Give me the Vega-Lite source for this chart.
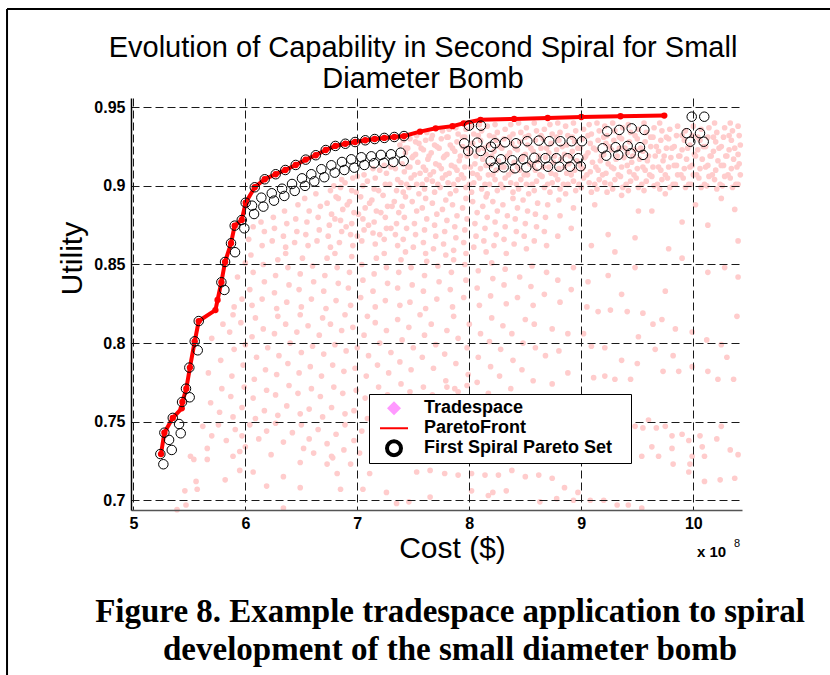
{
"$schema": "https://vega.github.io/schema/vega-lite/v6.json",
"width": 611, "height": 412,
"autosize": {"type": "none"},
"padding": {"left": 131, "top": 98, "right": 88, "bottom": 165},
"background": "white",
"config": {"view": {"stroke": null}, "font": "Liberation Sans",
 "legend": {"orient": "none", "legendX": 238, "legendY": 296, "fillColor": "white", "strokeColor": "black", "padding": 5, "rowPadding": 1, "clipHeight": 18.5, "symbolSize": 196, "symbolOffset": 11, "labelOffset": 21, "labelFont": "Liberation Sans", "labelFontSize": 18, "labelFontWeight": "bold", "labelColor": "black", "labelLimit": 400, "symbolOpacity": 1}},
"datasets": {
"trade": [
{"cost":7.41,"utility":0.896},{"cost":7.39,"utility":0.902},{"cost":7.42,"utility":0.909},{"cost":7.40,"utility":0.914},{"cost":7.43,"utility":0.921},{"cost":7.38,"utility":0.926},{"cost":7.41,"utility":0.929},
{"cost":7.46,"utility":0.899},{"cost":7.48,"utility":0.905},{"cost":7.47,"utility":0.912},{"cost":7.49,"utility":0.918},{"cost":7.45,"utility":0.924},{"cost":7.47,"utility":0.930},
{"cost":7.55,"utility":0.895},{"cost":7.53,"utility":0.901},{"cost":7.56,"utility":0.908},{"cost":7.54,"utility":0.915},{"cost":7.52,"utility":0.920},{"cost":7.55,"utility":0.927},{"cost":7.53,"utility":0.932},
{"cost":7.60,"utility":0.898},{"cost":7.62,"utility":0.904},{"cost":7.61,"utility":0.910},{"cost":7.63,"utility":0.917},{"cost":7.59,"utility":0.923},{"cost":7.61,"utility":0.929},{"cost":7.62,"utility":0.934},
{"cost":7.69,"utility":0.896},{"cost":7.67,"utility":0.903},{"cost":7.68,"utility":0.909},{"cost":7.70,"utility":0.914},{"cost":7.66,"utility":0.921},{"cost":7.69,"utility":0.926},{"cost":7.67,"utility":0.932},
{"cost":7.74,"utility":0.899},{"cost":7.76,"utility":0.905},{"cost":7.75,"utility":0.911},{"cost":7.77,"utility":0.918},{"cost":7.73,"utility":0.924},{"cost":7.75,"utility":0.930},{"cost":7.76,"utility":0.935},
{"cost":7.83,"utility":0.895},{"cost":7.81,"utility":0.902},{"cost":7.82,"utility":0.908},{"cost":7.84,"utility":0.913},{"cost":7.80,"utility":0.920},{"cost":7.83,"utility":0.926},{"cost":7.81,"utility":0.931},{"cost":7.82,"utility":0.936},
{"cost":7.88,"utility":0.897},{"cost":7.90,"utility":0.904},{"cost":7.89,"utility":0.910},{"cost":7.91,"utility":0.916},{"cost":7.87,"utility":0.922},{"cost":7.89,"utility":0.928},{"cost":7.90,"utility":0.933},{"cost":7.88,"utility":0.937},
{"cost":7.97,"utility":0.899},{"cost":7.95,"utility":0.905},{"cost":7.96,"utility":0.912},{"cost":7.98,"utility":0.919},{"cost":7.94,"utility":0.925},{"cost":7.96,"utility":0.931},{"cost":7.97,"utility":0.936},
{"cost":8.02,"utility":0.896},{"cost":8.04,"utility":0.902},{"cost":8.03,"utility":0.908},{"cost":8.05,"utility":0.914},{"cost":8.01,"utility":0.921},{"cost":8.03,"utility":0.927},{"cost":8.04,"utility":0.933},{"cost":8.02,"utility":0.938},
{"cost":8.11,"utility":0.898},{"cost":8.09,"utility":0.905},{"cost":8.10,"utility":0.911},{"cost":8.12,"utility":0.917},{"cost":8.08,"utility":0.923},{"cost":8.10,"utility":0.929},{"cost":8.11,"utility":0.935},{"cost":8.09,"utility":0.939},
{"cost":8.16,"utility":0.895},{"cost":8.18,"utility":0.901},{"cost":8.17,"utility":0.907},{"cost":8.19,"utility":0.913},{"cost":8.15,"utility":0.920},{"cost":8.17,"utility":0.926},{"cost":8.18,"utility":0.932},{"cost":8.16,"utility":0.938},
{"cost":8.25,"utility":0.897},{"cost":8.23,"utility":0.904},{"cost":8.24,"utility":0.910},{"cost":8.26,"utility":0.916},{"cost":8.22,"utility":0.922},{"cost":8.24,"utility":0.929},{"cost":8.25,"utility":0.934},{"cost":8.23,"utility":0.939},
{"cost":8.30,"utility":0.899},{"cost":8.32,"utility":0.905},{"cost":8.31,"utility":0.912},{"cost":8.33,"utility":0.918},{"cost":8.29,"utility":0.924},{"cost":8.31,"utility":0.930},{"cost":8.32,"utility":0.936},
{"cost":8.39,"utility":0.896},{"cost":8.37,"utility":0.902},{"cost":8.38,"utility":0.909},{"cost":8.40,"utility":0.915},{"cost":8.36,"utility":0.921},{"cost":8.38,"utility":0.927},{"cost":8.39,"utility":0.933},{"cost":8.37,"utility":0.939},
{"cost":8.44,"utility":0.898},{"cost":8.46,"utility":0.904},{"cost":8.45,"utility":0.910},{"cost":8.47,"utility":0.917},{"cost":8.43,"utility":0.923},{"cost":8.45,"utility":0.928},{"cost":8.46,"utility":0.934},{"cost":8.44,"utility":0.940},
{"cost":8.53,"utility":0.895},{"cost":8.51,"utility":0.901},{"cost":8.52,"utility":0.907},{"cost":8.54,"utility":0.914},{"cost":8.50,"utility":0.920},{"cost":8.52,"utility":0.926},{"cost":8.53,"utility":0.932},{"cost":8.51,"utility":0.937},
{"cost":8.58,"utility":0.897},{"cost":8.60,"utility":0.903},{"cost":8.59,"utility":0.910},{"cost":8.61,"utility":0.916},{"cost":8.57,"utility":0.922},{"cost":8.59,"utility":0.929},{"cost":8.60,"utility":0.935},{"cost":8.58,"utility":0.940},
{"cost":8.67,"utility":0.899},{"cost":8.65,"utility":0.906},{"cost":8.66,"utility":0.912},{"cost":8.68,"utility":0.918},{"cost":8.64,"utility":0.924},{"cost":8.66,"utility":0.930},{"cost":8.67,"utility":0.936},
{"cost":8.72,"utility":0.896},{"cost":8.74,"utility":0.902},{"cost":8.73,"utility":0.908},{"cost":8.75,"utility":0.915},{"cost":8.71,"utility":0.921},{"cost":8.73,"utility":0.927},{"cost":8.74,"utility":0.933},{"cost":8.72,"utility":0.939},
{"cost":8.81,"utility":0.898},{"cost":8.79,"utility":0.904},{"cost":8.80,"utility":0.911},{"cost":8.82,"utility":0.917},{"cost":8.78,"utility":0.923},{"cost":8.80,"utility":0.929},{"cost":8.81,"utility":0.934},{"cost":8.79,"utility":0.940},
{"cost":8.86,"utility":0.895},{"cost":8.88,"utility":0.901},{"cost":8.87,"utility":0.908},{"cost":8.89,"utility":0.914},{"cost":8.85,"utility":0.920},{"cost":8.87,"utility":0.926},{"cost":8.88,"utility":0.932},{"cost":8.86,"utility":0.938},
{"cost":8.95,"utility":0.897},{"cost":8.93,"utility":0.903},{"cost":8.94,"utility":0.910},{"cost":8.96,"utility":0.916},{"cost":8.92,"utility":0.922},{"cost":8.94,"utility":0.928},{"cost":8.95,"utility":0.935},{"cost":8.93,"utility":0.940},
{"cost":9.00,"utility":0.899},{"cost":9.02,"utility":0.905},{"cost":9.01,"utility":0.911},{"cost":9.03,"utility":0.918},{"cost":8.99,"utility":0.924},{"cost":9.01,"utility":0.930},{"cost":9.02,"utility":0.936},
{"cost":9.09,"utility":0.896},{"cost":9.07,"utility":0.902},{"cost":9.08,"utility":0.909},{"cost":9.10,"utility":0.915},{"cost":9.06,"utility":0.921},{"cost":9.08,"utility":0.927},{"cost":9.09,"utility":0.933},{"cost":9.07,"utility":0.939},
{"cost":9.14,"utility":0.898},{"cost":9.16,"utility":0.904},{"cost":9.15,"utility":0.910},{"cost":9.17,"utility":0.916},{"cost":9.13,"utility":0.923},{"cost":9.15,"utility":0.929},{"cost":9.16,"utility":0.935},{"cost":9.14,"utility":0.940},
{"cost":9.23,"utility":0.896},{"cost":9.21,"utility":0.902},{"cost":9.22,"utility":0.908},{"cost":9.24,"utility":0.914},{"cost":9.20,"utility":0.920},{"cost":9.22,"utility":0.927},{"cost":9.23,"utility":0.932},{"cost":9.21,"utility":0.938},
{"cost":9.28,"utility":0.898},{"cost":9.30,"utility":0.904},{"cost":9.29,"utility":0.911},{"cost":9.31,"utility":0.917},{"cost":9.27,"utility":0.923},{"cost":9.29,"utility":0.929},{"cost":9.30,"utility":0.935},{"cost":9.28,"utility":0.940},
{"cost":9.37,"utility":0.899},{"cost":9.35,"utility":0.906},{"cost":9.36,"utility":0.912},{"cost":9.38,"utility":0.918},{"cost":9.34,"utility":0.924},{"cost":9.36,"utility":0.930},{"cost":9.37,"utility":0.937},
{"cost":9.42,"utility":0.897},{"cost":9.44,"utility":0.903},{"cost":9.43,"utility":0.909},{"cost":9.45,"utility":0.915},{"cost":9.41,"utility":0.921},{"cost":9.43,"utility":0.928},{"cost":9.44,"utility":0.934},{"cost":9.42,"utility":0.939},
{"cost":9.51,"utility":0.899},{"cost":9.49,"utility":0.905},{"cost":9.50,"utility":0.911},{"cost":9.52,"utility":0.917},{"cost":9.48,"utility":0.923},{"cost":9.50,"utility":0.930},{"cost":9.51,"utility":0.936},
{"cost":9.56,"utility":0.897},{"cost":9.58,"utility":0.903},{"cost":9.57,"utility":0.910},{"cost":9.59,"utility":0.916},{"cost":9.55,"utility":0.922},{"cost":9.57,"utility":0.928},{"cost":9.58,"utility":0.934},{"cost":9.56,"utility":0.940},
{"cost":9.65,"utility":0.900},{"cost":9.63,"utility":0.906},{"cost":9.64,"utility":0.912},{"cost":9.66,"utility":0.919},{"cost":9.62,"utility":0.925},{"cost":9.64,"utility":0.931},{"cost":9.65,"utility":0.937},
{"cost":9.70,"utility":0.898},{"cost":9.72,"utility":0.904},{"cost":9.71,"utility":0.910},{"cost":9.73,"utility":0.916},{"cost":9.69,"utility":0.922},{"cost":9.71,"utility":0.929},{"cost":9.72,"utility":0.935},{"cost":9.70,"utility":0.940},
{"cost":9.79,"utility":0.899},{"cost":9.77,"utility":0.905},{"cost":9.78,"utility":0.912},{"cost":9.80,"utility":0.918},{"cost":9.76,"utility":0.924},{"cost":9.78,"utility":0.930},{"cost":9.79,"utility":0.936},
{"cost":9.84,"utility":0.901},{"cost":9.86,"utility":0.907},{"cost":9.85,"utility":0.913},{"cost":9.87,"utility":0.919},{"cost":9.83,"utility":0.925},{"cost":9.85,"utility":0.932},{"cost":9.86,"utility":0.938},
{"cost":9.93,"utility":0.899},{"cost":9.91,"utility":0.905},{"cost":9.92,"utility":0.911},{"cost":9.94,"utility":0.917},{"cost":9.90,"utility":0.923},{"cost":9.92,"utility":0.929},{"cost":9.93,"utility":0.935},
{"cost":9.98,"utility":0.901},{"cost":10.00,"utility":0.907},{"cost":9.99,"utility":0.913},{"cost":10.01,"utility":0.920},{"cost":9.97,"utility":0.926},{"cost":9.99,"utility":0.932},{"cost":10.00,"utility":0.938},
{"cost":10.07,"utility":0.899},{"cost":10.05,"utility":0.905},{"cost":10.06,"utility":0.911},{"cost":10.08,"utility":0.917},{"cost":10.04,"utility":0.923},{"cost":10.06,"utility":0.929},{"cost":10.07,"utility":0.936},
{"cost":10.12,"utility":0.900},{"cost":10.14,"utility":0.906},{"cost":10.13,"utility":0.913},{"cost":10.15,"utility":0.919},{"cost":10.11,"utility":0.925},{"cost":10.13,"utility":0.931},{"cost":10.14,"utility":0.937},
{"cost":10.21,"utility":0.898},{"cost":10.19,"utility":0.904},{"cost":10.20,"utility":0.910},{"cost":10.22,"utility":0.916},{"cost":10.18,"utility":0.922},{"cost":10.20,"utility":0.928},{"cost":10.21,"utility":0.934},{"cost":10.19,"utility":0.940},
{"cost":10.26,"utility":0.900},{"cost":10.28,"utility":0.906},{"cost":10.27,"utility":0.913},{"cost":10.29,"utility":0.919},{"cost":10.25,"utility":0.925},{"cost":10.27,"utility":0.931},{"cost":10.28,"utility":0.937},
{"cost":10.35,"utility":0.899},{"cost":10.33,"utility":0.905},{"cost":10.34,"utility":0.911},{"cost":10.36,"utility":0.917},{"cost":10.32,"utility":0.923},{"cost":10.34,"utility":0.929},{"cost":10.35,"utility":0.935},{"cost":10.33,"utility":0.940},
{"cost":10.40,"utility":0.901},{"cost":10.42,"utility":0.907},{"cost":10.41,"utility":0.914},{"cost":10.40,"utility":0.920},{"cost":10.42,"utility":0.926},{"cost":10.41,"utility":0.932},{"cost":10.40,"utility":0.938},
{"cost":7.44,"utility":0.901},{"cost":7.45,"utility":0.912},{"cost":7.43,"utility":0.924},
{"cost":7.51,"utility":0.907},{"cost":7.50,"utility":0.919},{"cost":7.52,"utility":0.928},
{"cost":7.58,"utility":0.901},{"cost":7.59,"utility":0.912},{"cost":7.57,"utility":0.924},
{"cost":7.65,"utility":0.907},{"cost":7.64,"utility":0.919},{"cost":7.66,"utility":0.930},
{"cost":7.72,"utility":0.901},{"cost":7.73,"utility":0.913},{"cost":7.71,"utility":0.925},
{"cost":7.79,"utility":0.907},{"cost":7.78,"utility":0.919},{"cost":7.80,"utility":0.931},
{"cost":7.86,"utility":0.901},{"cost":7.87,"utility":0.912},{"cost":7.85,"utility":0.924},
{"cost":7.93,"utility":0.907},{"cost":7.92,"utility":0.919},{"cost":7.94,"utility":0.931},
{"cost":8.00,"utility":0.901},{"cost":8.01,"utility":0.912},{"cost":7.99,"utility":0.924},
{"cost":8.07,"utility":0.907},{"cost":8.06,"utility":0.919},{"cost":8.08,"utility":0.932},
{"cost":8.14,"utility":0.901},{"cost":8.15,"utility":0.913},{"cost":8.13,"utility":0.924},
{"cost":8.21,"utility":0.907},{"cost":8.20,"utility":0.919},{"cost":8.22,"utility":0.931},
{"cost":8.28,"utility":0.901},{"cost":8.29,"utility":0.912},{"cost":8.27,"utility":0.925},
{"cost":8.35,"utility":0.907},{"cost":8.34,"utility":0.919},{"cost":8.36,"utility":0.931},
{"cost":8.42,"utility":0.901},{"cost":8.43,"utility":0.912},{"cost":8.41,"utility":0.924},
{"cost":8.49,"utility":0.907},{"cost":8.48,"utility":0.919},{"cost":8.50,"utility":0.931},
{"cost":8.56,"utility":0.901},{"cost":8.57,"utility":0.913},{"cost":8.55,"utility":0.924},
{"cost":8.63,"utility":0.907},{"cost":8.62,"utility":0.919},{"cost":8.64,"utility":0.932},
{"cost":8.70,"utility":0.901},{"cost":8.71,"utility":0.912},{"cost":8.69,"utility":0.924},
{"cost":8.77,"utility":0.907},{"cost":8.76,"utility":0.919},{"cost":8.78,"utility":0.931},
{"cost":8.84,"utility":0.901},{"cost":8.85,"utility":0.912},{"cost":8.83,"utility":0.925},
{"cost":8.91,"utility":0.907},{"cost":8.90,"utility":0.919},{"cost":8.92,"utility":0.931},
{"cost":8.98,"utility":0.901},{"cost":8.99,"utility":0.913},{"cost":8.97,"utility":0.924},
{"cost":9.05,"utility":0.907},{"cost":9.04,"utility":0.919},{"cost":9.06,"utility":0.932},
{"cost":9.12,"utility":0.901},{"cost":9.13,"utility":0.912},{"cost":9.11,"utility":0.924},
{"cost":9.19,"utility":0.907},{"cost":9.18,"utility":0.919},{"cost":9.20,"utility":0.931},
{"cost":9.26,"utility":0.901},{"cost":9.27,"utility":0.912},{"cost":9.25,"utility":0.925},
{"cost":9.33,"utility":0.907},{"cost":9.32,"utility":0.919},{"cost":9.34,"utility":0.931},
{"cost":9.40,"utility":0.901},{"cost":9.41,"utility":0.913},{"cost":9.39,"utility":0.924},
{"cost":9.47,"utility":0.907},{"cost":9.46,"utility":0.919},{"cost":9.48,"utility":0.932},
{"cost":9.54,"utility":0.901},{"cost":9.55,"utility":0.912},{"cost":9.53,"utility":0.924},
{"cost":9.61,"utility":0.907},{"cost":9.60,"utility":0.919},{"cost":9.62,"utility":0.931},
{"cost":9.68,"utility":0.901},{"cost":9.69,"utility":0.912},{"cost":9.67,"utility":0.925},
{"cost":9.75,"utility":0.907},{"cost":9.74,"utility":0.919},{"cost":9.76,"utility":0.931},
{"cost":9.82,"utility":0.901},{"cost":9.83,"utility":0.913},{"cost":9.81,"utility":0.924},
{"cost":9.89,"utility":0.907},{"cost":9.88,"utility":0.919},{"cost":9.90,"utility":0.932},
{"cost":9.96,"utility":0.901},{"cost":9.97,"utility":0.912},{"cost":9.95,"utility":0.924},
{"cost":10.03,"utility":0.907},{"cost":10.02,"utility":0.919},{"cost":10.04,"utility":0.931},
{"cost":10.10,"utility":0.901},{"cost":10.11,"utility":0.912},{"cost":10.09,"utility":0.925},
{"cost":10.17,"utility":0.907},{"cost":10.16,"utility":0.919},{"cost":10.18,"utility":0.931},
{"cost":10.24,"utility":0.901},{"cost":10.25,"utility":0.913},{"cost":10.23,"utility":0.924},
{"cost":10.31,"utility":0.907},{"cost":10.30,"utility":0.919},{"cost":10.32,"utility":0.932},
{"cost":10.38,"utility":0.901},{"cost":10.39,"utility":0.912},{"cost":10.37,"utility":0.924},
{"cost":6.15,"utility":0.862},{"cost":6.17,"utility":0.871},{"cost":6.14,"utility":0.877},
{"cost":6.24,"utility":0.865},{"cost":6.26,"utility":0.873},{"cost":6.25,"utility":0.880},
{"cost":6.36,"utility":0.861},{"cost":6.34,"utility":0.868},{"cost":6.37,"utility":0.876},{"cost":6.35,"utility":0.884},
{"cost":6.44,"utility":0.864},{"cost":6.46,"utility":0.871},{"cost":6.45,"utility":0.879},{"cost":6.47,"utility":0.888},
{"cost":6.56,"utility":0.862},{"cost":6.54,"utility":0.869},{"cost":6.55,"utility":0.877},{"cost":6.57,"utility":0.884},{"cost":6.53,"utility":0.892},
{"cost":6.64,"utility":0.865},{"cost":6.66,"utility":0.872},{"cost":6.65,"utility":0.880},{"cost":6.67,"utility":0.887},{"cost":6.63,"utility":0.895},
{"cost":6.76,"utility":0.861},{"cost":6.74,"utility":0.868},{"cost":6.75,"utility":0.875},{"cost":6.77,"utility":0.882},{"cost":6.73,"utility":0.889},{"cost":6.76,"utility":0.897},
{"cost":6.84,"utility":0.864},{"cost":6.86,"utility":0.871},{"cost":6.85,"utility":0.878},{"cost":6.87,"utility":0.885},{"cost":6.83,"utility":0.892},{"cost":6.85,"utility":0.899},{"cost":6.86,"utility":0.904},
{"cost":6.96,"utility":0.862},{"cost":6.94,"utility":0.869},{"cost":6.95,"utility":0.876},{"cost":6.97,"utility":0.883},{"cost":6.93,"utility":0.890},{"cost":6.95,"utility":0.897},{"cost":6.96,"utility":0.905},
{"cost":7.04,"utility":0.865},{"cost":7.06,"utility":0.872},{"cost":7.05,"utility":0.879},{"cost":7.07,"utility":0.886},{"cost":7.03,"utility":0.893},{"cost":7.05,"utility":0.900},{"cost":7.06,"utility":0.907},
{"cost":7.16,"utility":0.863},{"cost":7.14,"utility":0.870},{"cost":7.15,"utility":0.877},{"cost":7.17,"utility":0.884},{"cost":7.13,"utility":0.891},{"cost":7.15,"utility":0.898},{"cost":7.16,"utility":0.905},{"cost":7.14,"utility":0.911},
{"cost":7.24,"utility":0.866},{"cost":7.26,"utility":0.873},{"cost":7.25,"utility":0.880},{"cost":7.27,"utility":0.887},{"cost":7.23,"utility":0.894},{"cost":7.25,"utility":0.901},{"cost":7.26,"utility":0.908},{"cost":7.24,"utility":0.913},
{"cost":7.36,"utility":0.862},{"cost":7.34,"utility":0.869},{"cost":7.35,"utility":0.876},{"cost":7.37,"utility":0.883},{"cost":7.33,"utility":0.890},{"cost":7.35,"utility":0.897},{"cost":7.36,"utility":0.904},{"cost":7.34,"utility":0.911},
{"cost":6.80,"utility":0.879},{"cost":6.81,"utility":0.893},{"cost":6.79,"utility":0.900},
{"cost":6.90,"utility":0.874},{"cost":6.91,"utility":0.888},{"cost":6.89,"utility":0.902},
{"cost":7.00,"utility":0.868},{"cost":7.01,"utility":0.882},{"cost":6.99,"utility":0.896},{"cost":7.00,"utility":0.906},
{"cost":7.10,"utility":0.875},{"cost":7.11,"utility":0.889},{"cost":7.09,"utility":0.903},
{"cost":7.20,"utility":0.869},{"cost":7.21,"utility":0.883},{"cost":7.19,"utility":0.897},{"cost":7.20,"utility":0.910},
{"cost":7.30,"utility":0.873},{"cost":7.31,"utility":0.887},{"cost":7.29,"utility":0.901},{"cost":7.30,"utility":0.912},
{"cost":7.43,"utility":0.858},{"cost":7.41,"utility":0.866},{"cost":7.44,"utility":0.873},{"cost":7.42,"utility":0.880},{"cost":7.40,"utility":0.887},{"cost":7.43,"utility":0.893},
{"cost":7.50,"utility":0.861},{"cost":7.52,"utility":0.869},{"cost":7.51,"utility":0.876},{"cost":7.53,"utility":0.884},{"cost":7.49,"utility":0.890},
{"cost":7.61,"utility":0.857},{"cost":7.59,"utility":0.864},{"cost":7.60,"utility":0.872},{"cost":7.62,"utility":0.879},{"cost":7.58,"utility":0.886},{"cost":7.61,"utility":0.892},
{"cost":7.68,"utility":0.860},{"cost":7.70,"utility":0.868},{"cost":7.69,"utility":0.875},{"cost":7.71,"utility":0.882},{"cost":7.67,"utility":0.889},
{"cost":7.79,"utility":0.856},{"cost":7.77,"utility":0.863},{"cost":7.78,"utility":0.871},{"cost":7.80,"utility":0.878},{"cost":7.76,"utility":0.885},{"cost":7.79,"utility":0.891},
{"cost":7.86,"utility":0.859},{"cost":7.88,"utility":0.867},{"cost":7.87,"utility":0.874},{"cost":7.89,"utility":0.881},{"cost":7.85,"utility":0.888},
{"cost":7.97,"utility":0.857},{"cost":7.95,"utility":0.864},{"cost":7.96,"utility":0.872},{"cost":7.98,"utility":0.879},{"cost":7.94,"utility":0.886},{"cost":7.97,"utility":0.892},
{"cost":8.04,"utility":0.861},{"cost":8.06,"utility":0.868},{"cost":8.05,"utility":0.876},{"cost":8.07,"utility":0.883},{"cost":8.03,"utility":0.890},
{"cost":8.15,"utility":0.858},{"cost":8.13,"utility":0.865},{"cost":8.14,"utility":0.873},{"cost":8.16,"utility":0.880},{"cost":8.12,"utility":0.887},{"cost":8.15,"utility":0.893},
{"cost":8.22,"utility":0.862},{"cost":8.24,"utility":0.869},{"cost":8.23,"utility":0.877},{"cost":8.25,"utility":0.884},{"cost":8.21,"utility":0.890},
{"cost":8.33,"utility":0.857},{"cost":8.31,"utility":0.866},{"cost":8.32,"utility":0.874},{"cost":8.34,"utility":0.881},{"cost":8.30,"utility":0.888},
{"cost":8.40,"utility":0.863},{"cost":8.42,"utility":0.871},{"cost":8.41,"utility":0.879},{"cost":8.43,"utility":0.886},{"cost":8.39,"utility":0.892},
{"cost":8.51,"utility":0.860},{"cost":8.49,"utility":0.868},{"cost":8.50,"utility":0.876},{"cost":8.52,"utility":0.884},{"cost":8.48,"utility":0.891},
{"cost":8.58,"utility":0.865},{"cost":8.60,"utility":0.874},{"cost":8.59,"utility":0.882},{"cost":8.61,"utility":0.889},
{"cost":8.69,"utility":0.862},{"cost":8.67,"utility":0.871},{"cost":8.68,"utility":0.880},{"cost":8.70,"utility":0.888},
{"cost":8.79,"utility":0.868},{"cost":8.81,"utility":0.881},{"cost":8.80,"utility":0.891},
{"cost":8.91,"utility":0.873},{"cost":8.93,"utility":0.886},
{"cost":9.12,"utility":0.888},{"cost":9.24,"utility":0.869},{"cost":9.36,"utility":0.894},{"cost":9.48,"utility":0.867},{"cost":9.63,"utility":0.884},{"cost":9.75,"utility":0.895},{"cost":9.90,"utility":0.877},{"cost":10.02,"utility":0.888},{"cost":10.13,"utility":0.875},{"cost":10.25,"utility":0.892},{"cost":10.37,"utility":0.885},{"cost":9.78,"utility":0.860},{"cost":9.30,"utility":0.858},{"cost":9.51,"utility":0.884},{"cost":9.09,"utility":0.862},{"cost":10.40,"utility":0.865},
{"cost":6.06,"utility":0.824},{"cost":6.04,"utility":0.834},{"cost":6.07,"utility":0.845},{"cost":6.05,"utility":0.856},
{"cost":6.15,"utility":0.828},{"cost":6.17,"utility":0.839},{"cost":6.16,"utility":0.850},
{"cost":6.28,"utility":0.822},{"cost":6.26,"utility":0.832},{"cost":6.27,"utility":0.843},{"cost":6.29,"utility":0.853},
{"cost":6.37,"utility":0.826},{"cost":6.39,"utility":0.837},{"cost":6.38,"utility":0.848},{"cost":6.36,"utility":0.857},
{"cost":6.50,"utility":0.823},{"cost":6.48,"utility":0.834},{"cost":6.49,"utility":0.844},{"cost":6.51,"utility":0.854},
{"cost":6.59,"utility":0.828},{"cost":6.61,"utility":0.839},{"cost":6.60,"utility":0.849},
{"cost":6.72,"utility":0.822},{"cost":6.70,"utility":0.833},{"cost":6.71,"utility":0.843},{"cost":6.73,"utility":0.854},
{"cost":6.81,"utility":0.827},{"cost":6.83,"utility":0.838},{"cost":6.82,"utility":0.848},{"cost":6.80,"utility":0.857},
{"cost":6.94,"utility":0.824},{"cost":6.92,"utility":0.835},{"cost":6.93,"utility":0.845},{"cost":6.95,"utility":0.855},
{"cost":7.03,"utility":0.829},{"cost":7.05,"utility":0.840},{"cost":7.04,"utility":0.850},
{"cost":7.16,"utility":0.823},{"cost":7.14,"utility":0.833},{"cost":7.15,"utility":0.844},{"cost":7.17,"utility":0.854},
{"cost":7.25,"utility":0.827},{"cost":7.27,"utility":0.838},{"cost":7.26,"utility":0.848},{"cost":7.24,"utility":0.857},
{"cost":7.38,"utility":0.824},{"cost":7.36,"utility":0.835},{"cost":7.37,"utility":0.845},{"cost":7.39,"utility":0.853},
{"cost":7.47,"utility":0.826},{"cost":7.49,"utility":0.837},{"cost":7.48,"utility":0.848},
{"cost":7.61,"utility":0.822},{"cost":7.59,"utility":0.833},{"cost":7.60,"utility":0.843},{"cost":7.62,"utility":0.852},
{"cost":7.71,"utility":0.828},{"cost":7.73,"utility":0.839},{"cost":7.72,"utility":0.849},
{"cost":7.85,"utility":0.823},{"cost":7.83,"utility":0.834},{"cost":7.84,"utility":0.845},{"cost":7.86,"utility":0.853},
{"cost":7.95,"utility":0.829},{"cost":7.97,"utility":0.840},{"cost":7.96,"utility":0.850},
{"cost":8.09,"utility":0.824},{"cost":8.07,"utility":0.835},{"cost":8.08,"utility":0.846},
{"cost":8.19,"utility":0.830},{"cost":8.21,"utility":0.841},{"cost":8.20,"utility":0.851},
{"cost":8.33,"utility":0.825},{"cost":8.31,"utility":0.837},{"cost":8.32,"utility":0.847},
{"cost":8.43,"utility":0.829},{"cost":8.45,"utility":0.842},
{"cost":8.57,"utility":0.824},{"cost":8.55,"utility":0.836},{"cost":8.56,"utility":0.849},
{"cost":8.67,"utility":0.831},{"cost":8.69,"utility":0.845},
{"cost":8.81,"utility":0.826},{"cost":8.79,"utility":0.840},
{"cost":8.91,"utility":0.834},{"cost":8.93,"utility":0.848},
{"cost":9.24,"utility":0.843},{"cost":9.48,"utility":0.848},{"cost":9.75,"utility":0.833},{"cost":9.90,"utility":0.854},{"cost":10.13,"utility":0.845},{"cost":10.28,"utility":0.848},{"cost":10.40,"utility":0.842},{"cost":9.36,"utility":0.831},{"cost":9.06,"utility":0.839},
{"cost":5.93,"utility":0.842},{"cost":5.97,"utility":0.828},{"cost":6.00,"utility":0.851},{"cost":5.90,"utility":0.823},{"cost":6.03,"utility":0.866},{"cost":6.07,"utility":0.874},
{"cost":5.69,"utility":0.762},{"cost":5.67,"utility":0.781},{"cost":5.70,"utility":0.803},
{"cost":5.77,"utility":0.756},{"cost":5.79,"utility":0.771},{"cost":5.78,"utility":0.789},{"cost":5.80,"utility":0.812},
{"cost":5.89,"utility":0.753},{"cost":5.87,"utility":0.766},{"cost":5.88,"utility":0.779},{"cost":5.90,"utility":0.796},{"cost":5.86,"utility":0.807},{"cost":5.89,"utility":0.818},
{"cost":5.97,"utility":0.759},{"cost":5.99,"utility":0.772},{"cost":5.98,"utility":0.786},{"cost":6.00,"utility":0.799},{"cost":5.96,"utility":0.813},
{"cost":6.09,"utility":0.752},{"cost":6.07,"utility":0.765},{"cost":6.08,"utility":0.777},{"cost":6.10,"utility":0.791},{"cost":6.06,"utility":0.804},{"cost":6.09,"utility":0.816},
{"cost":6.17,"utility":0.757},{"cost":6.19,"utility":0.770},{"cost":6.18,"utility":0.783},{"cost":6.20,"utility":0.797},{"cost":6.16,"utility":0.809},
{"cost":6.29,"utility":0.754},{"cost":6.27,"utility":0.767},{"cost":6.28,"utility":0.780},{"cost":6.30,"utility":0.792},{"cost":6.26,"utility":0.806},{"cost":6.29,"utility":0.817},
{"cost":6.37,"utility":0.760},{"cost":6.39,"utility":0.773},{"cost":6.38,"utility":0.787},{"cost":6.40,"utility":0.800},{"cost":6.36,"utility":0.812},
{"cost":6.49,"utility":0.755},{"cost":6.47,"utility":0.768},{"cost":6.48,"utility":0.781},{"cost":6.50,"utility":0.794},{"cost":6.46,"utility":0.807},{"cost":6.49,"utility":0.818},
{"cost":6.57,"utility":0.758},{"cost":6.59,"utility":0.771},{"cost":6.58,"utility":0.785},{"cost":6.60,"utility":0.798},{"cost":6.56,"utility":0.811},
{"cost":6.69,"utility":0.753},{"cost":6.67,"utility":0.766},{"cost":6.68,"utility":0.779},{"cost":6.70,"utility":0.793},{"cost":6.66,"utility":0.805},{"cost":6.69,"utility":0.816},
{"cost":6.77,"utility":0.759},{"cost":6.79,"utility":0.772},{"cost":6.78,"utility":0.786},{"cost":6.80,"utility":0.799},{"cost":6.76,"utility":0.812},
{"cost":6.89,"utility":0.755},{"cost":6.87,"utility":0.768},{"cost":6.88,"utility":0.782},{"cost":6.90,"utility":0.795},{"cost":6.86,"utility":0.808},{"cost":6.89,"utility":0.818},
{"cost":6.97,"utility":0.757},{"cost":6.99,"utility":0.770},{"cost":6.98,"utility":0.784},{"cost":7.00,"utility":0.797},{"cost":6.96,"utility":0.810},
{"cost":7.09,"utility":0.752},{"cost":7.07,"utility":0.765},{"cost":7.08,"utility":0.779},{"cost":7.10,"utility":0.792},{"cost":7.06,"utility":0.805},{"cost":7.09,"utility":0.817},
{"cost":7.17,"utility":0.758},{"cost":7.19,"utility":0.772},{"cost":7.18,"utility":0.786},{"cost":7.20,"utility":0.800},{"cost":7.16,"utility":0.813},
{"cost":7.29,"utility":0.754},{"cost":7.27,"utility":0.767},{"cost":7.28,"utility":0.781},{"cost":7.30,"utility":0.794},{"cost":7.26,"utility":0.808},
{"cost":7.37,"utility":0.760},{"cost":7.39,"utility":0.774},{"cost":7.38,"utility":0.788},{"cost":7.40,"utility":0.802},{"cost":7.36,"utility":0.815},
{"cost":7.49,"utility":0.755},{"cost":7.47,"utility":0.769},{"cost":7.48,"utility":0.783},{"cost":7.50,"utility":0.797},{"cost":7.46,"utility":0.810},
{"cost":7.57,"utility":0.758},{"cost":7.59,"utility":0.772},{"cost":7.58,"utility":0.791},{"cost":7.60,"utility":0.805},{"cost":7.56,"utility":0.818},
{"cost":7.69,"utility":0.753},{"cost":7.67,"utility":0.767},{"cost":7.68,"utility":0.784},{"cost":7.70,"utility":0.799},{"cost":7.66,"utility":0.812},
{"cost":7.77,"utility":0.760},{"cost":7.79,"utility":0.776},{"cost":7.78,"utility":0.793},{"cost":7.80,"utility":0.808},
{"cost":7.89,"utility":0.756},{"cost":7.87,"utility":0.771},{"cost":7.88,"utility":0.787},{"cost":7.90,"utility":0.803},{"cost":7.86,"utility":0.817},
{"cost":7.97,"utility":0.764},{"cost":7.99,"utility":0.780},{"cost":7.98,"utility":0.797},{"cost":8.00,"utility":0.812},
{"cost":8.09,"utility":0.758},{"cost":8.07,"utility":0.775},{"cost":8.08,"utility":0.791},{"cost":8.10,"utility":0.806},
{"cost":8.17,"utility":0.768},{"cost":8.19,"utility":0.785},{"cost":8.18,"utility":0.801},{"cost":8.20,"utility":0.816},
{"cost":8.29,"utility":0.762},{"cost":8.27,"utility":0.779},{"cost":8.28,"utility":0.796},{"cost":8.30,"utility":0.811},
{"cost":8.37,"utility":0.771},{"cost":8.39,"utility":0.789},{"cost":8.38,"utility":0.806},
{"cost":8.49,"utility":0.765},{"cost":8.47,"utility":0.783},{"cost":8.48,"utility":0.800},{"cost":8.50,"utility":0.815},
{"cost":8.57,"utility":0.776},{"cost":8.59,"utility":0.797},{"cost":8.58,"utility":0.812},
{"cost":9.05,"utility":0.823},{"cost":9.15,"utility":0.820},{"cost":9.26,"utility":0.821},{"cost":9.41,"utility":0.820},{"cost":9.55,"utility":0.819},{"cost":9.72,"utility":0.815},{"cost":9.84,"utility":0.809},{"cost":9.99,"utility":0.807},{"cost":10.12,"utility":0.802},{"cost":10.25,"utility":0.799},{"cost":10.39,"utility":0.817},{"cost":9.09,"utility":0.798},{"cost":9.21,"utility":0.797},{"cost":9.36,"utility":0.789},{"cost":9.50,"utility":0.787},{"cost":9.66,"utility":0.796},{"cost":9.82,"utility":0.792},{"cost":9.99,"utility":0.785},{"cost":10.13,"utility":0.782},{"cost":10.22,"utility":0.777},{"cost":10.36,"utility":0.777},{"cost":9.30,"utility":0.777},{"cost":9.44,"utility":0.777},{"cost":9.73,"utility":0.782},{"cost":9.87,"utility":0.782},{"cost":10.30,"utility":0.791},{"cost":9.11,"utility":0.778},{"cost":9.21,"utility":0.779},{"cost":9.51,"utility":0.804},{"cost":9.64,"utility":0.812},{"cost":9.02,"utility":0.806},{"cost":8.88,"utility":0.806},{"cost":8.74,"utility":0.809},{"cost":8.74,"utility":0.774},{"cost":8.88,"utility":0.781},{"cost":8.68,"utility":0.792},{"cost":8.80,"utility":0.795},
{"cost":5.51,"utility":0.728},{"cost":5.54,"utility":0.726},{"cost":5.56,"utility":0.712},{"cost":5.57,"utility":0.707},{"cost":5.46,"utility":0.706},{"cost":5.47,"utility":0.697},{"cost":5.39,"utility":0.694},{"cost":5.66,"utility":0.726},{"cost":5.82,"utility":0.713},{"cost":5.89,"utility":0.728},{"cost":5.95,"utility":0.719},{"cost":6.00,"utility":0.734},{"cost":6.07,"utility":0.718},{"cost":6.19,"utility":0.709},{"cost":6.34,"utility":0.715},{"cost":6.34,"utility":0.695},{"cost":6.49,"utility":0.708},{"cost":6.49,"utility":0.724},{"cost":6.61,"utility":0.730},{"cost":6.73,"utility":0.723},{"cost":6.77,"utility":0.728},{"cost":6.82,"utility":0.717},{"cost":6.85,"utility":0.707},{"cost":6.88,"utility":0.732},{"cost":6.94,"utility":0.723},{"cost":7.02,"utility":0.730},{"cost":7.05,"utility":0.707},{"cost":7.11,"utility":0.717},{"cost":7.26,"utility":0.705},{"cost":7.35,"utility":0.698},{"cost":7.46,"utility":0.699},{"cost":7.53,"utility":0.718},{"cost":7.65,"utility":0.719},{"cost":7.65,"utility":0.702},
{"cost":5.62,"utility":0.747},{"cost":5.70,"utility":0.741},{"cost":5.76,"utility":0.748},{"cost":5.83,"utility":0.738},{"cost":5.91,"utility":0.745},{"cost":5.97,"utility":0.741},{"cost":6.04,"utility":0.748},{"cost":6.12,"utility":0.739},{"cost":6.19,"utility":0.744},{"cost":6.27,"utility":0.749},{"cost":6.34,"utility":0.737},{"cost":6.42,"utility":0.743},{"cost":6.50,"utility":0.748},{"cost":6.57,"utility":0.739},{"cost":6.65,"utility":0.745},{"cost":6.73,"utility":0.736},{"cost":6.81,"utility":0.742},{"cost":6.89,"utility":0.748},{"cost":6.97,"utility":0.738},{"cost":7.04,"utility":0.744},{"cost":5.66,"utility":0.733},{"cost":5.95,"utility":0.731},{"cost":6.23,"utility":0.729},{"cost":6.52,"utility":0.733},{"cost":6.78,"utility":0.727},
{"cost":7.78,"utility":0.717},{"cost":7.90,"utility":0.716},{"cost":8.02,"utility":0.717},{"cost":8.14,"utility":0.716},{"cost":8.26,"utility":0.716},{"cost":8.38,"utility":0.719},{"cost":8.50,"utility":0.715},{"cost":8.62,"utility":0.716},{"cost":8.74,"utility":0.714},{"cost":8.85,"utility":0.708},{"cost":8.97,"utility":0.705},{"cost":9.08,"utility":0.700},{"cost":9.20,"utility":0.700},{"cost":9.32,"utility":0.697},{"cost":9.42,"utility":0.697},{"cost":9.54,"utility":0.695},{"cost":8.17,"utility":0.703},{"cost":8.21,"utility":0.705},{"cost":8.33,"utility":0.706},{"cost":8.63,"utility":0.699},{"cost":8.78,"utility":0.701},{"cost":8.93,"utility":0.700},{"cost":8.02,"utility":0.706},
{"cost":9.48,"utility":0.747},{"cost":9.55,"utility":0.746},{"cost":9.67,"utility":0.746},{"cost":9.75,"utility":0.747},{"cost":9.81,"utility":0.741},{"cost":9.90,"utility":0.742},{"cost":9.96,"utility":0.738},{"cost":10.06,"utility":0.741},{"cost":10.08,"utility":0.734},{"cost":10.21,"utility":0.739},{"cost":10.33,"utility":0.732},{"cost":10.40,"utility":0.729},{"cost":9.54,"utility":0.728},{"cost":9.63,"utility":0.734},{"cost":9.69,"utility":0.728},{"cost":9.81,"utility":0.733},{"cost":9.82,"utility":0.723},{"cost":9.97,"utility":0.723},{"cost":9.99,"utility":0.728},{"cost":10.10,"utility":0.728},{"cost":10.24,"utility":0.713},{"cost":10.37,"utility":0.714},{"cost":10.10,"utility":0.712},{"cost":9.96,"utility":0.718},{"cost":9.60,"utility":0.751},{"cost":10.25,"utility":0.747},{"cost":7.80,"utility":0.772},{"cost":7.90,"utility":0.769},{"cost":7.98,"utility":0.773}
],
"front": [
{"cost":5.247,"utility":0.7294},{"cost":5.277,"utility":0.743},{"cost":5.352,"utility":0.7524},{"cost":5.432,"utility":0.7585},{"cost":5.438,"utility":0.7625},{"cost":5.473,"utility":0.771},{"cost":5.505,"utility":0.7844},{"cost":5.548,"utility":0.8011},{"cost":5.584,"utility":0.814},{"cost":5.733,"utility":0.821},{"cost":5.752,"utility":0.8274},{"cost":5.786,"utility":0.8387},{"cost":5.819,"utility":0.8516},{"cost":5.872,"utility":0.8635},{"cost":5.905,"utility":0.8747},{"cost":5.968,"utility":0.8783},{"cost":6.003,"utility":0.8893},{"cost":6.084,"utility":0.8991},{"cost":6.173,"utility":0.9042},{"cost":6.271,"utility":0.9074},{"cost":6.357,"utility":0.9101},{"cost":6.45,"utility":0.9133},{"cost":6.539,"utility":0.9167},{"cost":6.629,"utility":0.9195},{"cost":6.718,"utility":0.9228},{"cost":6.804,"utility":0.9254},{"cost":6.893,"utility":0.9268},{"cost":6.98,"utility":0.9279},{"cost":7.071,"utility":0.929},{"cost":7.155,"utility":0.9298},{"cost":7.241,"utility":0.9305},{"cost":7.33,"utility":0.9311},{"cost":7.417,"utility":0.9317},{"cost":7.56,"utility":0.9345},{"cost":7.70,"utility":0.9366},{"cost":7.85,"utility":0.938},{"cost":7.95,"utility":0.9398},{"cost":8.10,"utility":0.942},{"cost":8.40,"utility":0.9426},{"cost":8.70,"utility":0.9432},{"cost":9.00,"utility":0.9438},{"cost":9.35,"utility":0.9443},{"cost":9.741,"utility":0.9447}
],
"first": [
{"cost":7.417,"utility":0.9317},{"cost":7.33,"utility":0.9311},{"cost":7.241,"utility":0.9305},{"cost":7.155,"utility":0.9298},{"cost":7.071,"utility":0.929},{"cost":6.98,"utility":0.9279},{"cost":6.893,"utility":0.9268},{"cost":6.804,"utility":0.9254},{"cost":6.718,"utility":0.9228},{"cost":6.629,"utility":0.9195},{"cost":6.539,"utility":0.9167},{"cost":6.45,"utility":0.9133},{"cost":6.357,"utility":0.9101},{"cost":6.271,"utility":0.9074},{"cost":6.173,"utility":0.9042},{"cost":6.084,"utility":0.8991},{"cost":6.003,"utility":0.8893},{"cost":5.968,"utility":0.8783},{"cost":5.905,"utility":0.8747},{"cost":5.872,"utility":0.8635},{"cost":5.819,"utility":0.8516},{"cost":5.786,"utility":0.8387},
{"cost":5.991,"utility":0.873},{"cost":5.908,"utility":0.8578},{"cost":5.813,"utility":0.8338},{"cost":6.06,"utility":0.8874},{"cost":6.078,"utility":0.8821},{"cost":6.143,"utility":0.8925},{"cost":6.161,"utility":0.8868},{"cost":6.236,"utility":0.8953},{"cost":6.256,"utility":0.8906},{"cost":6.328,"utility":0.8982},{"cost":6.348,"utility":0.8936},{"cost":6.417,"utility":0.9012},{"cost":6.441,"utility":0.8968},{"cost":6.506,"utility":0.9048},{"cost":6.533,"utility":0.9},{"cost":6.589,"utility":0.9074},{"cost":6.616,"utility":0.9029},{"cost":6.679,"utility":0.9106},{"cost":6.705,"utility":0.9055},{"cost":6.768,"utility":0.9131},{"cost":6.798,"utility":0.9084},{"cost":6.863,"utility":0.9152},{"cost":6.884,"utility":0.9101},{"cost":6.946,"utility":0.9169},{"cost":6.973,"utility":0.9116},{"cost":7.036,"utility":0.9182},{"cost":7.063,"utility":0.9133},{"cost":7.125,"utility":0.9188},{"cost":7.149,"utility":0.9144},{"cost":7.211,"utility":0.9197},{"cost":7.238,"utility":0.9146},{"cost":7.301,"utility":0.9201},{"cost":7.322,"utility":0.9152},{"cost":7.387,"utility":0.9211},{"cost":7.414,"utility":0.9158},
{"cost":5.584,"utility":0.814},{"cost":5.548,"utility":0.8011},{"cost":5.575,"utility":0.7954},{"cost":5.5,"utility":0.7844},{"cost":5.47,"utility":0.771},{"cost":5.503,"utility":0.7655},{"cost":5.435,"utility":0.7625},{"cost":5.352,"utility":0.7524},{"cost":5.408,"utility":0.7485},{"cost":5.423,"utility":0.7426},{"cost":5.277,"utility":0.743},{"cost":5.319,"utility":0.7384},{"cost":5.343,"utility":0.732},{"cost":5.241,"utility":0.7294},{"cost":5.268,"utility":0.7229},
{"cost":7.997,"utility":0.9383},{"cost":8.104,"utility":0.9383},{"cost":7.955,"utility":0.9271},{"cost":8.071,"utility":0.9275},{"cost":7.991,"utility":0.9222},{"cost":8.102,"utility":0.9222},{"cost":8.194,"utility":0.9249},{"cost":8.23,"utility":0.9271},{"cost":8.319,"utility":0.9277},{"cost":8.417,"utility":0.9271},{"cost":8.518,"utility":0.9284},{"cost":8.62,"utility":0.9288},{"cost":8.714,"utility":0.9284},{"cost":8.813,"utility":0.9284},{"cost":8.914,"utility":0.9284},{"cost":9.006,"utility":0.9284},
{"cost":8.191,"utility":0.9158},{"cost":8.283,"utility":0.9169},{"cost":8.384,"utility":0.9163},{"cost":8.482,"utility":0.9169},{"cost":8.581,"utility":0.9179},{"cost":8.679,"utility":0.9176},{"cost":8.777,"utility":0.9176},{"cost":8.879,"utility":0.9176},{"cost":8.973,"utility":0.9176},
{"cost":8.221,"utility":0.9116},{"cost":8.307,"utility":0.9118},{"cost":8.408,"utility":0.9112},{"cost":8.509,"utility":0.9118},{"cost":8.607,"utility":0.9129},{"cost":8.703,"utility":0.9122},{"cost":8.804,"utility":0.9122},{"cost":8.899,"utility":0.9122},{"cost":8.995,"utility":0.9125},
{"cost":9.232,"utility":0.9347},{"cost":9.339,"utility":0.9356},{"cost":9.45,"utility":0.9366},{"cost":9.563,"utility":0.9356},{"cost":9.191,"utility":0.9239},{"cost":9.307,"utility":0.9246},{"cost":9.414,"utility":0.9254},{"cost":9.524,"utility":0.9246},{"cost":9.223,"utility":0.9192},{"cost":9.33,"utility":0.9197},{"cost":9.441,"utility":0.9207},{"cost":9.551,"utility":0.9197},
{"cost":9.986,"utility":0.944},{"cost":10.098,"utility":0.944},{"cost":9.941,"utility":0.9335},{"cost":10.06,"utility":0.9335},{"cost":9.973,"utility":0.9281},{"cost":10.093,"utility":0.9281}
],
"series": [
{"series":"Tradespace"},{"series":"ParetoFront"},{"series":"First Spiral Pareto Set"}
]
},
"layer": [
{"data": {"name": "trade"}, "mark": {"type": "circle", "size": 32, "opacity": 1, "color": "#ffcccc"},
 "encoding": {
  "x": {"field": "cost", "type": "quantitative", "scale": {"domain": [4.979, 10.435], "nice": false, "zero": false},
   "axis": {"values": [5,6,7,8,9,10], "format": "d", "grid": true, "gridDash": [8,4], "gridColor": "#1a1a1a", "gridWidth": 1, "ticks": false, "tickSize": 0, "domainColor": "#555555", "domainWidth": 1.5, "labelFont": "Liberation Sans", "labelFontSize": 16, "labelFontWeight": "bold", "labelColor": "black", "labelPadding": 5, "labelFlush": false, "labelOverlap": false, "title": "Cost ($)", "titleFont": "Liberation Sans", "titleFontSize": 30, "titleFontWeight": "normal", "titleColor": "black", "titleX": 321, "titleY": 47, "titleAlign": "center", "titleBaseline": "alphabetic", "zindex": 1}},
  "y": {"field": "utility", "type": "quantitative", "scale": {"domain": [0.6938, 0.9559], "nice": false, "zero": false},
   "axis": {"values": [0.7,0.75,0.8,0.85,0.9,0.95], "format": ".2~f", "grid": true, "gridDash": [8,4], "gridColor": "#1a1a1a", "gridWidth": 1, "ticks": false, "tickSize": 0, "domainColor": "black", "domainWidth": 1.5, "labelFont": "Liberation Sans", "labelFontSize": 16, "labelFontWeight": "bold", "labelColor": "black", "labelPadding": 6, "labelFlush": false, "labelOverlap": false, "title": "Utility", "titleFont": "Liberation Sans", "titleFontSize": 30, "titleFontWeight": "normal", "titleColor": "black", "titleX": -59, "titleY": 160, "titleAngle": 270, "titleAlign": "center", "titleBaseline": "middle", "zindex": 1}}
 }},
{"data": {"name": "front"}, "mark": {"type": "line", "strokeWidth": 4, "color": "#ff0000", "point": {"filled": true, "size": 40, "color": "#ff0000"}},
 "encoding": {"x": {"field": "cost", "type": "quantitative"}, "y": {"field": "utility", "type": "quantitative"}}},
{"data": {"name": "first"}, "mark": {"type": "point", "filled": false, "size": 90, "strokeWidth": 1, "opacity": 1, "color": "#000000"},
 "encoding": {"x": {"field": "cost", "type": "quantitative"}, "y": {"field": "utility", "type": "quantitative"}}},
{"data": {"name": "series"}, "mark": {"type": "point", "opacity": 0},
 "encoding": {
  "fill": {"field": "series", "type": "nominal", "scale": {"domain": ["Tradespace", "ParetoFront", "First Spiral Pareto Set"], "range": ["#ff99ff", "transparent", "transparent"]}, "legend": {"title": null, "zindex": 2, "labelExpr": "datum.label + '\u2800'"}},
  "stroke": {"field": "series", "type": "nominal", "scale": {"domain": ["Tradespace", "ParetoFront", "First Spiral Pareto Set"], "range": ["#ff99ff", "#ff0000", "#000000"]}, "legend": {"title": null, "zindex": 2, "labelExpr": "datum.label + '\u2800'"}},
  "shape": {"field": "series", "type": "nominal", "scale": {"domain": ["Tradespace", "ParetoFront", "First Spiral Pareto Set"], "range": ["diamond", "M-2,0L2,0", "circle"]}, "legend": {"title": null, "zindex": 2, "labelExpr": "datum.label + '\u2800'"}},
  "strokeWidth": {"field": "series", "type": "nominal", "scale": {"domain": ["Tradespace", "ParetoFront", "First Spiral Pareto Set"], "range": [0, 4, 2]}, "legend": {"title": null, "zindex": 2, "labelExpr": "datum.label + '\u2800'"}}
 }},
{"data": {"values": [{}]}, "mark": {"type": "text", "text": ["Evolution of Capability in Second Spiral for Small", "Diameter Bomb"], "align": "center", "baseline": "alphabetic", "lineHeight": 31, "fontSize": 29, "font": "Liberation Sans", "color": "black"},
 "encoding": {"x": {"datum": 7.5866, "type": "quantitative"}, "y": {"datum": 0.982, "type": "quantitative"}}},
{"data": {"values": [{}]}, "mark": {"type": "text", "text": "x 10", "align": "left", "baseline": "alphabetic", "fontSize": 15, "fontWeight": "bold", "font": "Liberation Sans", "color": "black"},
 "encoding": {"x": {"datum": 10.033, "type": "quantitative"}, "y": {"datum": 0.6639, "type": "quantitative"}}},
{"data": {"values": [{}]}, "mark": {"type": "text", "text": "8", "align": "left", "baseline": "alphabetic", "fontSize": 11, "font": "Liberation Sans", "color": "black"},
 "encoding": {"x": {"datum": 10.363, "type": "quantitative"}, "y": {"datum": 0.6703, "type": "quantitative"}}},
{"data": {"values": [{}]}, "mark": {"type": "text", "text": ["Figure 8. Example tradespace application to spiral", "development of the small diameter bomb"], "align": "center", "baseline": "alphabetic", "lineHeight": 38, "fontSize": 33, "fontWeight": "bold", "font": "Liberation Serif", "color": "black"},
 "encoding": {"x": {"datum": 7.828, "type": "quantitative"}, "y": {"datum": 0.6226, "type": "quantitative"}}},
{"data": {"values": [{}]}, "mark": {"type": "rule", "color": "black", "strokeWidth": 2},
 "encoding": {"x": {"datum": 3.872, "type": "quantitative"}, "y": {"datum": 1.0125, "type": "quantitative"}, "y2": {"datum": 0.586}}},
{"data": {"values": [{}]}, "mark": {"type": "rule", "color": "black", "strokeWidth": 2},
 "encoding": {"x": {"datum": 3.872, "type": "quantitative"}, "x2": {"datum": 11.25}, "y": {"datum": 1.0125, "type": "quantitative"}}}
]
}
